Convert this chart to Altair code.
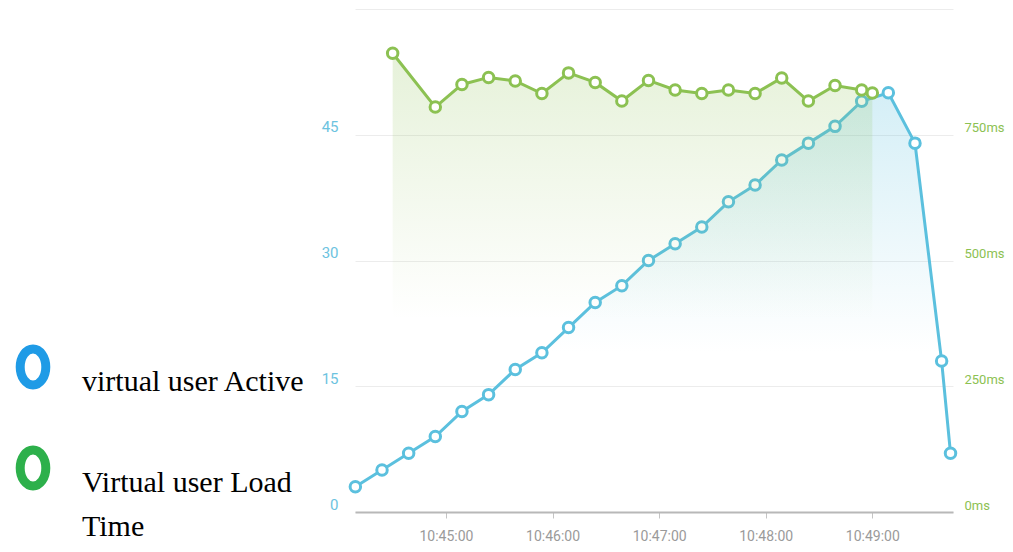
import altair as alt
import pandas as pd

# ---------------- data ----------------
blue_times = ["10:44:09", "10:44:24", "10:44:39", "10:44:54", "10:45:09", "10:45:24",
              "10:45:39", "10:45:54", "10:46:09", "10:46:24", "10:46:39", "10:46:54",
              "10:47:09", "10:47:24", "10:47:39", "10:47:54", "10:48:09", "10:48:24",
              "10:48:39", "10:48:54", "10:49:09", "10:49:24", "10:49:39", "10:49:44"]
blue_values = [3, 5, 7, 9, 12, 14, 17, 19, 22, 25, 27, 30,
               32, 34, 37, 39, 42, 44, 46, 49, 50, 44, 18, 7]

green_times = ["10:44:30", "10:44:54", "10:45:09", "10:45:24", "10:45:39", "10:45:54",
               "10:46:09", "10:46:24", "10:46:39", "10:46:54", "10:47:09", "10:47:24",
               "10:47:39", "10:47:54", "10:48:09", "10:48:24", "10:48:39", "10:48:54",
               "10:49:00"]
green_values = [912, 805, 850, 864, 857, 832, 873, 854, 817, 858, 839, 832,
                839, 832, 863, 817, 848, 839, 833]

legend_names = ["virtual user Active", "Virtual user Load Time"]
legend_colors = ["#1f9be6", "#2db04b"]

left_ticks = [0, 15, 30, 45, 60]
right_ticks = [0, 250, 500, 750, 1000]
x_tick_minutes = [45, 46, 47, 48, 49]

DAY = "2020-01-01T"
blue_df = pd.DataFrame({"time": [DAY + t for t in blue_times], "users": blue_values})
green_df = pd.DataFrame({"time": [DAY + t for t in green_times], "load": green_values})
legend_df = pd.DataFrame({"series": legend_names})

BLUE = "#5bc0de"
GREEN = "#8cc152"
SANS = "Roboto, Liberation Sans, sans-serif"


def dt(h, m, s=0, ms=0):
    return alt.DateTime(year=2020, month=1, date=1, hours=h, minutes=m, seconds=s, milliseconds=ms)


x_enc = alt.X(
    "time:T",
    scale=alt.Scale(domain=[dt(10, 44, 8, 800), dt(10, 49, 45, 400)]),
    axis=alt.Axis(
        values=[dt(10, m) for m in x_tick_minutes],
        format="%H:%M:%S",
        title=None,
        grid=False,
        domainColor="#b8b8b8",
        domainWidth=2,
        tickColor="#c4c4c4",
        tickSize=6,
        tickWidth=1,
        labelColor="#9a9a9a",
        labelFont=SANS,
        labelFontSize=14,
        labelPadding=11,
        labelFlush=False,
    ),
)

left_axis = alt.Axis(
    values=left_ticks,
    labelExpr="datum.value == 60 ? '' : datum.label",
    title=None,
    grid=True,
    gridColor="#ececec",
    gridWidth=1,
    domain=False,
    ticks=False,
    labelColor="#6cc3e0",
    labelFont=SANS,
    labelFontSize=15,
    labelPadding=17,
    labelBaseline="alphabetic",
    labelOffset=-3,
)

right_axis = alt.Axis(
    values=right_ticks,
    labelExpr="datum.value == 1000 ? '' : datum.value + 'ms'",
    orient="right",
    title=None,
    grid=False,
    domain=False,
    ticks=False,
    labelColor="#8cc152",
    labelFont=SANS,
    labelFontSize=13,
    labelPadding=11,
    labelBaseline="alphabetic",
    labelOffset=-3,
)


def grad(r, g, b, a0, stop):
    return alt.Gradient(
        gradient="linear",
        stops=[
            alt.GradientStop(color=f"rgba({r},{g},{b},{a0})", offset=0),
            alt.GradientStop(color=f"rgba({r},{g},{b},0)", offset=stop),
        ],
        x1=0, x2=0, y1=0, y2=1,
    )


yb = alt.Y("users:Q", scale=alt.Scale(domain=[0, 60]), axis=left_axis)
base_b = alt.Chart(blue_df).encode(x=x_enc, y=yb)
blue = alt.layer(
    base_b.mark_area(color=grad(91, 192, 222, 0.26, 0.62)),
    base_b.mark_line(color=BLUE, strokeWidth=3),
    base_b.mark_point(shape="circle", filled=True, fill="white", stroke=BLUE,
                      strokeWidth=3, size=110, opacity=1),
)

yg = alt.Y("load:Q", scale=alt.Scale(domain=[0, 1000]), axis=right_axis)
base_g = alt.Chart(green_df).encode(x=x_enc, y=yg)
green = alt.layer(
    base_g.mark_area(color=grad(140, 193, 82, 0.22, 0.58)),
    base_g.mark_line(color=GREEN, strokeWidth=3),
    base_g.mark_point(shape="circle", filled=True, fill="white", stroke=GREEN,
                      strokeWidth=3, size=110, opacity=1),
)

ellipse = "M0,-1A0.71,1,0,1,1,0,1A0.71,1,0,1,1,0,-1Z"
legend_layer = alt.Chart(legend_df).mark_point(opacity=0, filled=False).encode(
    color=alt.Color(
        "series:N",
        scale=alt.Scale(domain=legend_names, range=legend_colors),
        legend=alt.Legend(
            orient="none",
            legendX=-345,
            legendY=335,
            title=None,
            symbolType=ellipse,
            symbolSize=1300,
            symbolStrokeWidth=9,
            symbolFillColor="white",
            symbolOpacity=1,
            labelFont="Liberation Serif",
            labelFontSize=30,
            labelColor="black",
            labelOffset=26,
            labelLimit=400,
            labelBaseline="top",
            rowPadding=27,
            padding=0,
            labelExpr="datum.label == 'Virtual user Load Time' ? ['Virtual user Load', 'Time'] : datum.label",
        ),
    )
)

chart = (
    alt.layer(blue, green, legend_layer)
    .resolve_scale(y="independent")
    .properties(
        width=598,
        height=503,
        autosize=alt.AutoSizeParams(type="none"),
        padding={"left": 347, "top": 1, "right": 52, "bottom": 32},
    )
    .configure(style={"guide-label": {"lineHeight": 44}})
    .configure_view(stroke=None)
)

chart.save("out.html", embed_options={"renderer": "svg", "actions": False})
